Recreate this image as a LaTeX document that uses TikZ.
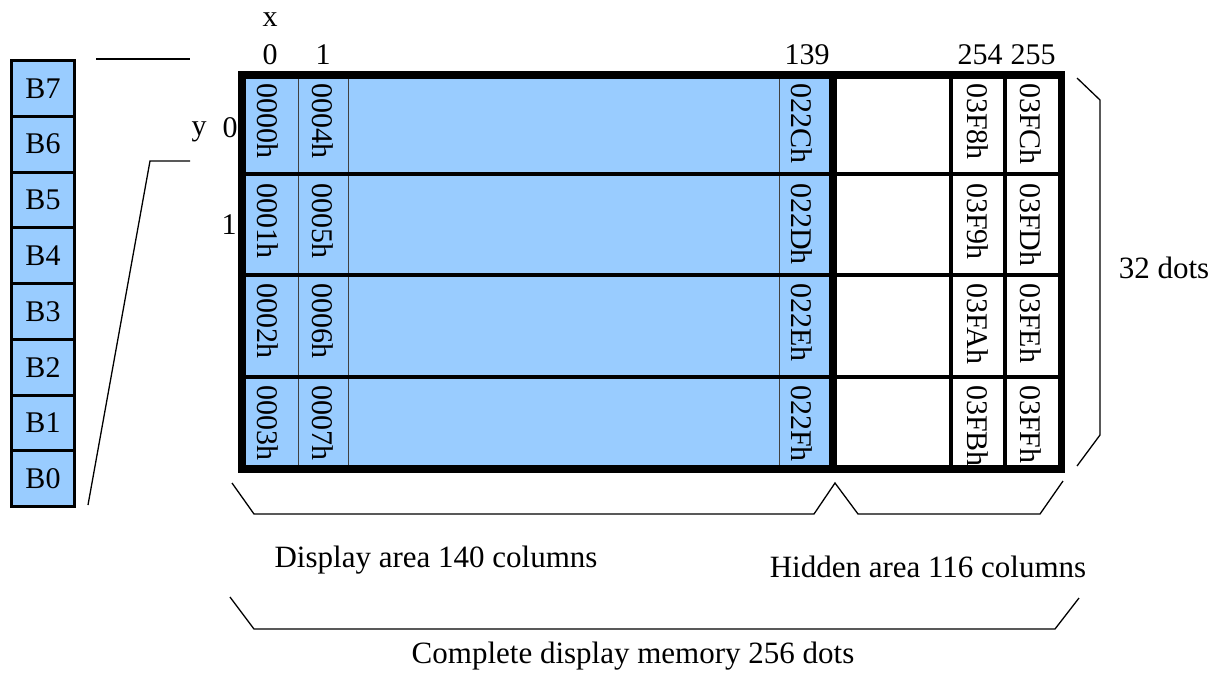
\documentclass[tikz,border=0pt]{standalone}
\usepackage{fontspec}
\setmainfont{Liberation Serif}
\definecolor{cellblue}{HTML}{99CCFF}
\begin{document}
\begin{tikzpicture}[x=1pt,y=-1pt,font=\fontsize{30}{32}\selectfont,
  bitcell/.style={draw,line width=3pt,fill=cellblue,minimum width=63pt,minimum height=55.75pt,inner sep=0pt,outer sep=0pt},
  addr/.style={rotate=-90,anchor=west,inner sep=0pt},
  lbl/.style={inner sep=0pt},
  biglbl/.style={inner sep=0pt,font=\fontsize{31}{33}\selectfont},
  thinline/.style={line width=1.3pt},
  rowline/.style={line width=3.5pt},
  thickline/.style={line width=7.5pt},
  gridline/.style={line width=0.8pt,color=black!75}]
\useasboundingbox (0,0) rectangle (1218,673);
% bit cells
\foreach \b [count=\i from 0] in {7,6,5,4,3,2,1,0}{
  \node[bitcell] (b\b) at (43,{60.5+55.75*(\i+0.5)}) {B\b};
}
% fan lines
\coordinate (f1) at (96,59);
\coordinate (f2) at (190,59);
\coordinate (f3) at (190,161);
\coordinate (f4) at (150,161);
\coordinate (f5) at (88,505);
\draw[thinline] (f1) -- (f2);
\draw[thinline] (f3) -- (f4) -- (f5);
% grid
\fill[cellblue] (242,75) rectangle (833,469);
\foreach \xx in {298,348,779}{\draw[gridline] (\xx,75) -- (\xx,469);}
\foreach \yy in {174,275,377}{\draw[rowline] (242,\yy) -- (1061.5,\yy);}
\foreach \xx in {951,1005}{\draw[rowline] (\xx,75) -- (\xx,469);}
\draw[thickline] (833,75) -- (833,469);
\draw[thickline] (242,75) rectangle (1061.5,469);
% addresses
\foreach \xx/\n in {267.5/0, 322.5/1, 801.5/2, 978/3, 1031/4}{
  \foreach \yy/\m in {83/0, 183/1, 283/2, 385/3}{
    \coordinate (p\n\m) at (\xx,\yy);
  }
}
\node[addr] (a00) at (p00) {0000h};
\node[addr] (a01) at (p01) {0001h};
\node[addr] (a02) at (p02) {0002h};
\node[addr] (a03) at (p03) {0003h};
\node[addr] (a10) at (p10) {0004h};
\node[addr] (a11) at (p11) {0005h};
\node[addr] (a12) at (p12) {0006h};
\node[addr] (a13) at (p13) {0007h};
\node[addr] (a20) at (p20) {022Ch};
\node[addr] (a21) at (p21) {022Dh};
\node[addr] (a22) at (p22) {022Eh};
\node[addr] (a23) at (p23) {022Fh};
\node[addr] (a30) at (p30) {03F8h};
\node[addr] (a31) at (p31) {03F9h};
\node[addr] (a32) at (p32) {03FAh};
\node[addr] (a33) at (p33) {03FBh};
\node[addr] (a40) at (p40) {03FCh};
\node[addr] (a41) at (p41) {03FDh};
\node[addr] (a42) at (p42) {03FEh};
\node[addr] (a43) at (p43) {03FFh};
% axis labels
\node[lbl] (lx) at (270,20) {x};
\node[lbl] (x0) at (270,55) {0};
\node[lbl] (x1) at (323,55) {1};
\node[lbl] (x139) at (807,55) {139};
\node[lbl] (x254) at (980,55) {254};
\node[lbl] (x255) at (1033,55) {255};
\node[lbl] (ly) at (199,132) {y};
\node[lbl] (y0) at (230,127.5) {0};
\node[lbl] (y1) at (229,225) {1};
% right brace
\coordinate (r1) at (1077,78);
\coordinate (r2) at (1100,100);
\coordinate (r3) at (1100,435);
\coordinate (r4) at (1077,466);
\draw[thinline] (r1) -- (r2) -- (r3) -- (r4);
\node[biglbl] (dots) at (1164,268) {32 dots};
% bottom braces
\coordinate (d1) at (232,483);
\coordinate (d2) at (254,514);
\coordinate (d3) at (814,514);
\coordinate (pk) at (835,483);
\coordinate (h2) at (858,514);
\coordinate (h3) at (1040,514);
\coordinate (h4) at (1063,481);
\draw[thinline] (d1) -- (d2) -- (d3) -- (pk) -- (h2) -- (h3) -- (h4);
\node[biglbl] (disp) at (436,560) {Display area 140 columns};
\node[biglbl] (hid) at (928,567) {Hidden area 116 columns};
\coordinate (c1) at (230,597);
\coordinate (c2) at (254,629);
\coordinate (c3) at (1055,629);
\coordinate (c4) at (1079,598);
\draw[thinline] (c1) -- (c2) -- (c3) -- (c4);
\node[biglbl] (comp) at (633,656) {Complete display memory 256 dots};
\end{tikzpicture}
\end{document}
